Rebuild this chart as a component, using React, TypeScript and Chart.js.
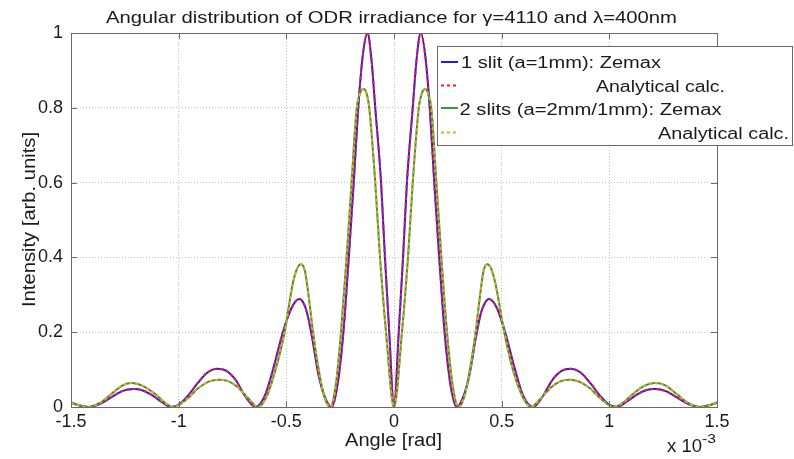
import React, { useEffect, useRef } from "react";
import { Chart, registerables } from "chart.js";

Chart.register(...registerables);

// ---- Data (angle in units of 1e-3 rad, intensity normalised) ----
const xTickValues = [-1.5, -1, -0.5, 0, 0.5, 1, 1.5];
const yTickValues = [0, 0.2, 0.4, 0.6, 0.8, 1];

const slit1X = [
  -1.5, -1.46, -1.42, -1.36, -1.31, -1.26, -1.208, -1.17, -1.13, -1.08, -1.035,
  -0.995, -0.96, -0.91, -0.865, -0.821, -0.78, -0.735, -0.69, -0.642,
  -0.6, -0.562, -0.516, -0.478, -0.458, -0.44, -0.42, -0.403, -0.38, -0.35, -0.32, -0.29,
  -0.262, -0.235, -0.21, -0.187, -0.166, -0.145, -0.123, -0.105, -0.087, -0.06, -0.042, -0.022, 0,
  0.022, 0.042, 0.06, 0.087, 0.105, 0.124, 0.145, 0.166, 0.187, 0.21, 0.235, 0.262, 0.292,
  0.32, 0.35, 0.38, 0.403, 0.422, 0.441, 0.46, 0.48, 0.516, 0.562, 0.6, 0.645,
  0.69, 0.735, 0.78, 0.821, 0.865, 0.91, 0.96, 0.995, 1.035,
  1.08, 1.13, 1.17, 1.212, 1.26, 1.31, 1.36, 1.42, 1.46, 1.5,
];
const slit1Y = [
  0.012, 0.004, 0, 0.01, 0.027, 0.043, 0.048, 0.045, 0.034, 0.014, 0,
  0.008, 0.028, 0.065, 0.093, 0.102, 0.097, 0.072, 0.028, 0,
  0.03, 0.1, 0.2, 0.262, 0.282, 0.289, 0.278, 0.25, 0.185, 0.085, 0.025, 0,
  0.06, 0.2, 0.4, 0.6, 0.8, 0.94, 1.0, 0.93, 0.8, 0.6, 0.4, 0.2, 0,
  0.2, 0.4, 0.6, 0.8, 0.93, 1.0, 0.94, 0.8, 0.6, 0.4, 0.2, 0.06, 0,
  0.025, 0.085, 0.185, 0.25, 0.278, 0.289, 0.282, 0.262, 0.2, 0.1, 0.03, 0,
  0.028, 0.072, 0.097, 0.102, 0.093, 0.065, 0.028, 0.008, 0,
  0.014, 0.034, 0.045, 0.048, 0.043, 0.027, 0.01, 0, 0.004, 0.012,
];

const slit2X = [
  -1.5, -1.46, -1.42, -1.36, -1.31, -1.26, -1.218, -1.165, -1.11, -1.06, -1.025,
  -0.96, -0.91, -0.86, -0.811, -0.77, -0.725, -0.675, -0.632,
  -0.59, -0.55, -0.508, -0.47, -0.45, -0.432, -0.414, -0.397, -0.376, -0.357, -0.327, -0.297,
  -0.27, -0.246, -0.22, -0.197, -0.173, -0.16, -0.143, -0.128, -0.115, -0.087, -0.065, -0.037, 0,
  0.037, 0.065, 0.087, 0.115, 0.13, 0.146, 0.16, 0.173, 0.197, 0.22, 0.246, 0.272, 0.3,
  0.33, 0.36, 0.379, 0.4, 0.416, 0.433, 0.451, 0.471, 0.512, 0.552, 0.595, 0.636,
  0.68, 0.73, 0.775, 0.815, 0.86, 0.91, 0.96, 1.02,
  1.06, 1.11, 1.16, 1.212, 1.26, 1.31, 1.36, 1.42, 1.46, 1.5,
];
const slit2Y = [
  0.011, 0.004, 0, 0.013, 0.036, 0.058, 0.064, 0.056, 0.035, 0.01, 0,
  0.022, 0.05, 0.068, 0.073, 0.069, 0.053, 0.022, 0,
  0.03, 0.1, 0.2, 0.33, 0.37, 0.382, 0.365, 0.3, 0.2, 0.125, 0.035, 0,
  0.06, 0.2, 0.4, 0.6, 0.8, 0.835, 0.85, 0.84, 0.8, 0.6, 0.4, 0.2, 0,
  0.2, 0.4, 0.6, 0.8, 0.84, 0.85, 0.835, 0.8, 0.6, 0.4, 0.2, 0.06, 0,
  0.035, 0.125, 0.2, 0.3, 0.365, 0.382, 0.37, 0.33, 0.2, 0.1, 0.03, 0,
  0.022, 0.053, 0.069, 0.073, 0.068, 0.05, 0.022, 0,
  0.01, 0.035, 0.056, 0.064, 0.058, 0.036, 0.013, 0, 0.004, 0.011,
];

const TITLE = "Angular distribution of ODR irradiance for \u03b3=4110 and \u03bb=400nm";
const X_LABEL = "Angle [rad]";
const Y_LABEL = "Intensity [arb. units]";
const seriesLabels = [
  "1 slit (a=1mm): Zemax",
  "Analytical calc.",
  "2 slits (a=2mm/1mm): Zemax",
  "Analytical calc.",
];
const seriesColors = ["#1a1aff", "#ff1a1a", "#339933", "#f2a030"];
const seriesDashed = [false, true, false, true];

const FONT = "'Liberation Sans', Arial, Helvetica, sans-serif";

function toPoints(xs: number[], ys: number[]) {
  return xs.map((x, i) => ({ x, y: ys[i] }));
}

function fitText(
  ctx: CanvasRenderingContext2D,
  text: string,
  x: number,
  y: number,
  w: number,
  font: string,
  rotate = false
) {
  ctx.save();
  ctx.font = font;
  const m = ctx.measureText(text).width;
  let s = w / m;
  s = Math.max(0.8, Math.min(1.3, s));
  ctx.translate(x, y);
  if (rotate) ctx.rotate(-Math.PI / 2);
  ctx.scale(s, 1);
  ctx.textAlign = "left";
  ctx.textBaseline = "alphabetic";
  ctx.fillStyle = "#1a1a1a";
  ctx.fillText(text, 0, 0);
  ctx.restore();
}

const decorPlugin = {
  id: "decor",
  afterDatasetsDraw(chart: any) {
    const ctx: CanvasRenderingContext2D = chart.ctx;
    const { left, right, top, bottom } = chart.chartArea;
    const xs = chart.scales.x;
    const ys = chart.scales.y;
    ctx.save();
    ctx.strokeStyle = "#6a6a6a";
    ctx.lineWidth = 1;
    ctx.strokeRect(Math.round(left) + 0.5, Math.round(top) + 0.5, Math.round(right - left), Math.round(bottom - top));
    const tl = 6;
    ctx.beginPath();
    xTickValues.forEach((v) => {
      const px = Math.round(xs.getPixelForValue(v)) + 0.5;
      ctx.moveTo(px, bottom);
      ctx.lineTo(px, bottom - tl);
      ctx.moveTo(px, top);
      ctx.lineTo(px, top + tl);
    });
    yTickValues.forEach((v) => {
      const py = Math.round(ys.getPixelForValue(v)) + 0.5;
      ctx.moveTo(left, py);
      ctx.lineTo(left + tl, py);
      ctx.moveTo(right, py);
      ctx.lineTo(right - tl, py);
    });
    ctx.stroke();
    ctx.restore();
  },
  afterDraw(chart: any) {
    const ctx: CanvasRenderingContext2D = chart.ctx;
    // Title
    fitText(ctx, TITLE, 106, 22.5, 571, `17px ${FONT}`);
    // Axis titles
    fitText(ctx, X_LABEL, 345, 446, 97, `18px ${FONT}`);
    fitText(ctx, Y_LABEL, 35, 307, 175, `18px ${FONT}`, true);
    // Exponent
    fitText(ctx, "x 10", 667, 451.5, 35, `18px ${FONT}`);
    fitText(ctx, "-3", 702, 443, 14, `13px ${FONT}`);

    // Legend
    ctx.save();
    const bx = 437.5, by = 46.5, bw = 355, bh = 99;
    ctx.fillStyle = "#ffffff";
    ctx.fillRect(bx, by, bw, bh);
    ctx.strokeStyle = "#6a6a6a";
    ctx.lineWidth = 1;
    ctx.strokeRect(bx, by, bw, bh);
    const lineYs = [62, 85.5, 108, 132.5];
    lineYs.forEach((ly, i) => {
      ctx.beginPath();
      ctx.strokeStyle = seriesColors[i];
      ctx.lineWidth = 2;
      ctx.setLineDash(seriesDashed[i] ? [3, 3] : []);
      ctx.moveTo(441, ly);
      ctx.lineTo(458, ly);
      ctx.stroke();
    });
    ctx.setLineDash([]);
    ctx.restore();
    fitText(ctx, seriesLabels[0], 461, 67.7, 200, `16px ${FONT}`);
    fitText(ctx, seriesLabels[1], 596, 91.5, 129, `16px ${FONT}`);
    fitText(ctx, seriesLabels[2], 459.5, 115, 262, `16px ${FONT}`);
    fitText(ctx, seriesLabels[3], 658, 139, 131, `16px ${FONT}`);
  },
};

export default function App() {
  const ref = useRef<HTMLCanvasElement | null>(null);

  useEffect(() => {
    document.body.style.margin = "0";
    const canvas = ref.current;
    if (!canvas) return;
    const mk = (i: number, xs: number[], ys: number[], order: number) => ({
      label: seriesLabels[i],
      data: toPoints(xs, ys),
      borderColor: seriesColors[i],
      backgroundColor: seriesColors[i],
      borderWidth: 2,
      borderDash: seriesDashed[i] ? [3, 3] : [],
      pointRadius: 0,
      fill: false,
      cubicInterpolationMode: "monotone" as const,
      order,
    });
    const chart = new Chart(canvas, {
      type: "line",
      data: {
        datasets: [
          mk(0, slit1X, slit1Y, 4),
          mk(1, slit1X, slit1Y, 3),
          mk(2, slit2X, slit2Y, 2),
          mk(3, slit2X, slit2Y, 1),
        ],
      },
      options: {
        responsive: false,
        animation: false,
        devicePixelRatio: 1,
        parsing: true,
        layout: { padding: { top: 33, right: 77, left: 0, bottom: 0 } },
        plugins: {
          legend: { display: false },
          title: { display: false },
          tooltip: { enabled: false },
        },
        scales: {
          x: {
            type: "linear",
            min: -1.5,
            max: 1.5,
            afterFit: (s: any) => {
              s.height = 52;
            },
            afterBuildTicks: (s: any) => {
              s.ticks = xTickValues.map((v) => ({ value: v }));
            },
            ticks: {
              padding: 4,
              color: "#1a1a1a",
              font: { family: FONT, size: 18 },
              maxRotation: 0,
              autoSkip: false,
              callback: (v: any) => String(v),
            },
            grid: { color: "#c4c4c4", drawTicks: false, lineWidth: 1 },
            border: { display: false, dash: [1, 2] },
          },
          y: {
            type: "linear",
            min: 0,
            max: 1,
            afterFit: (s: any) => {
              s.width = 71;
            },
            afterBuildTicks: (s: any) => {
              s.ticks = yTickValues.map((v) => ({ value: v }));
            },
            ticks: {
              padding: 8,
              color: "#1a1a1a",
              font: { family: FONT, size: 18 },
              autoSkip: false,
              callback: (v: any) => String(v),
            },
            grid: { color: "#c4c4c4", drawTicks: false, lineWidth: 1 },
            border: { display: false, dash: [1, 2] },
          },
        },
      },
      plugins: [decorPlugin],
    });
    return () => chart.destroy();
  }, []);

  return (
    <div style={{ width: 794, height: 459, background: "#ffffff" }}>
      <canvas ref={ref} width={794} height={459} style={{ display: "block" }} />
    </div>
  );
}
